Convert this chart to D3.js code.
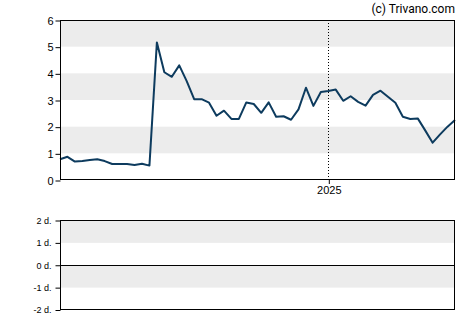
<!DOCTYPE html>
<meta charset="utf-8">
<style>
body { margin: 0; background: #fff; }
svg { display: block; font-family: Roboto, "Liberation Sans", sans-serif; }
</style>
<body>
<svg id="chart" width="470" height="325"></svg>
<script src="https://cdn.jsdelivr.net/npm/d3@7"></script>
<script>

// weekly closing prices
var startDate = new Date(2024, 3, 24);
var prices = [0.78, 0.87, 0.69, 0.71, 0.75, 0.78, 0.71, 0.60, 0.60, 0.60,
  0.56, 0.61, 0.54, 5.16, 4.04, 3.87, 4.30, 3.71, 3.03, 3.03,
  2.90, 2.41, 2.60, 2.29, 2.29, 2.91, 2.85, 2.52, 2.91, 2.37,
  2.39, 2.26, 2.65, 3.46, 2.78, 3.30, 3.34, 3.39, 2.97, 3.14,
  2.93, 2.79, 3.19, 3.35, 3.12, 2.90, 2.37, 2.29, 2.31, 1.86,
  1.40, 1.71, 2.00, 2.25];
var priceTicks = [0, 1, 2, 3, 4, 5, 6];
var priceBands = [[1, 2], [3, 4], [5, 6]];
var yearTicks = [new Date(2025, 0, 1)];
var lowerTicks = [-2, -1, 0, 1, 2];
var lowerBands = [[1, 2], [-1, 0]];

var dates = prices.map(function(p, i) { return d3.timeDay.offset(startDate, i * 7); });

var svg = d3.select("#chart");
var left = 60, right = 455;

var x = d3.scaleTime()
    .domain([dates[0], dates[dates.length - 1]])
    .range([left, right]);

var y = d3.scaleLinear().domain([0, 6]).range([180, 20]);
var y2 = d3.scaleLinear().domain([-2, 2]).range([310, 220.5]);

// grey bands
svg.selectAll(".band").data(priceBands).enter().append("rect")
    .attr("x", left).attr("width", right - left)
    .attr("y", function(d) { return y(d[1]); })
    .attr("height", function(d) { return y(d[0]) - y(d[1]); })
    .attr("fill", "#ececec");

svg.selectAll(".band2").data(lowerBands).enter().append("rect")
    .attr("x", left).attr("width", right - left)
    .attr("y", function(d) { return y2(d[1]); })
    .attr("height", function(d) { return y2(d[0]) - y2(d[1]); })
    .attr("fill", "#ececec");

// year marker
svg.selectAll(".yr").data(yearTicks).enter().append("line")
    .attr("x1", function(d) { return Math.round(x(d)) + 0.5; })
    .attr("x2", function(d) { return Math.round(x(d)) + 0.5; })
    .attr("y1", 20).attr("y2", 180)
    .attr("stroke", "#000").attr("stroke-dasharray", "1,2");

// price line
var line = d3.line()
    .x(function(d, i) { return x(dates[i]); })
    .y(function(d) { return y(d); });

svg.append("path").datum(prices)
    .attr("d", line)
    .attr("fill", "none")
    .attr("stroke", "#0d3b5e")
    .attr("stroke-width", 2)
    .attr("stroke-linejoin", "round");

// frames
svg.append("rect").attr("x", left + 0.5).attr("y", 20.5)
    .attr("width", right - left - 1).attr("height", 159)
    .attr("fill", "none").attr("stroke", "#000");
svg.append("rect").attr("x", left + 0.5).attr("y", 220.5)
    .attr("width", right - left - 1).attr("height", 89)
    .attr("fill", "none").attr("stroke", "#000");
svg.append("line").attr("x1", left).attr("x2", right)
    .attr("y1", Math.round(y2(0)) + 0.5).attr("y2", Math.round(y2(0)) + 0.5)
    .attr("stroke", "#000");

// axes
var yAxis = svg.append("g").attr("transform", "translate(" + (left + 0.5) + ",0.5)")
    .call(d3.axisLeft(y).tickValues(priceTicks).tickSize(5).tickPadding(2).tickFormat(d3.format("d")));
yAxis.select(".domain").remove();
yAxis.selectAll("text").attr("font-size", 11).attr("fill", "#000").attr("font-family", null);

var xAxis = svg.append("g").attr("transform", "translate(0.5,180)")
    .call(d3.axisBottom(x).tickValues(yearTicks).tickSize(4).tickPadding(2).tickFormat(d3.timeFormat("%Y")));
xAxis.select(".domain").remove();
xAxis.selectAll("text").attr("font-size", 11).attr("fill", "#000").attr("font-family", null);

var y2Axis = svg.append("g").attr("transform", "translate(" + (left + 0.5) + ",0)")
    .call(d3.axisLeft(y2).tickValues(lowerTicks).tickSize(5).tickPadding(4)
      .tickFormat(function(d) { return d + " d."; }));
y2Axis.select(".domain").remove();
y2Axis.selectAll("text").attr("font-size", 9).attr("fill", "#000").attr("font-family", null);

svg.append("text")
    .attr("x", right).attr("y", 13)
    .attr("text-anchor", "end")
    .attr("font-size", 12)
    .attr("fill", "#000")
    .text("(c) Trivano.com");

</script>
</body>
